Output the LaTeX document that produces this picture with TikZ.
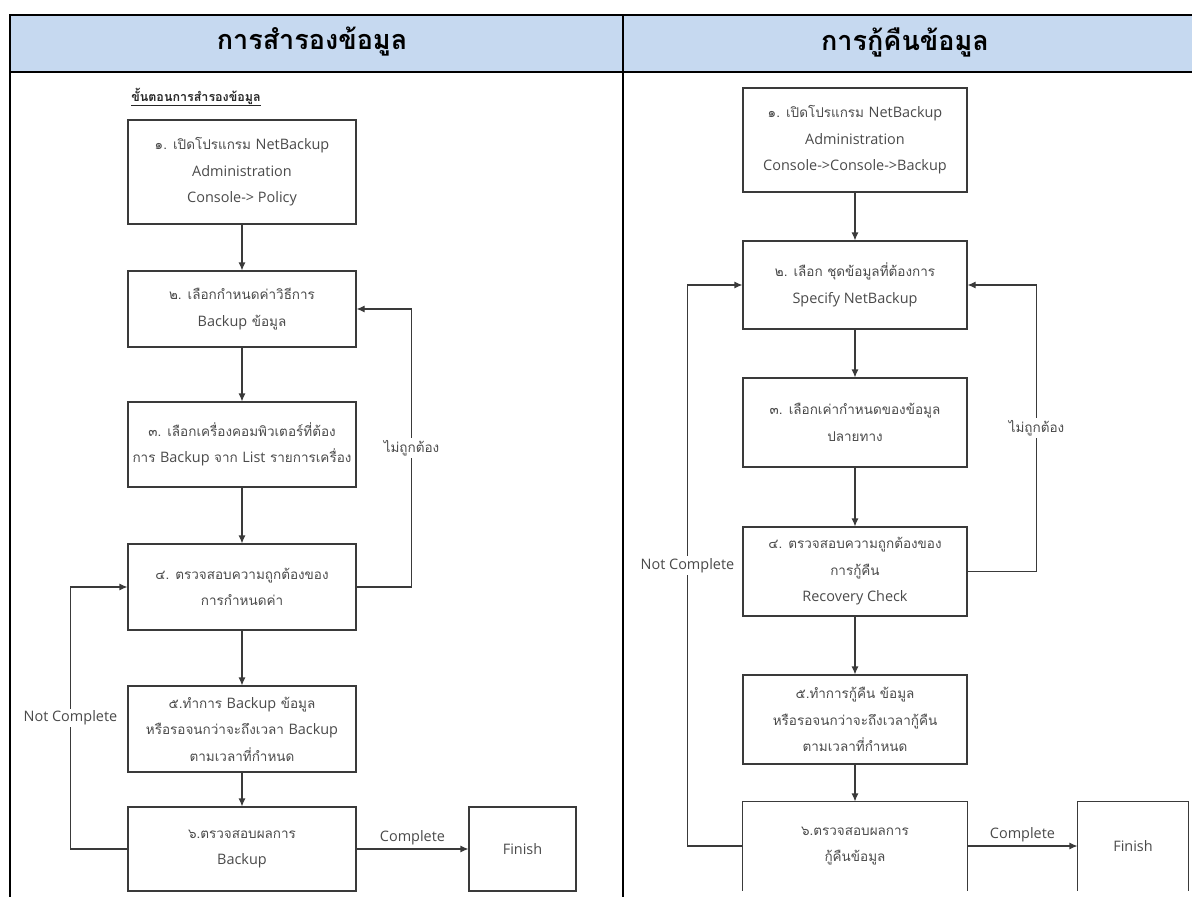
\documentclass[tikz,border=0pt]{standalone}
\usepackage{fontspec}
\setmainfont[Script=Thai]{Loma}
\newfontfamily\la[Scale=1.07]{Open Sans}
\usetikzlibrary{arrows.meta}
\definecolor{hdr}{HTML}{C6D9F0}
\definecolor{linec}{HTML}{3A3A3A}
\definecolor{txt}{HTML}{4A4A4A}
\tikzset{
  box/.style={draw=linec, line width=1.1pt, text=txt, align=center, inner sep=0pt,
    font=\fontsize{13.5}{26.5}\selectfont, minimum width=228, minimum height=86},
  openbox/.style={box, draw=none},
  arr/.style={draw=linec, line width=1.1pt, -{Latex[length=8pt,width=7pt]}},
  lbl/.style={fill=white, text=txt, inner sep=2pt, font=\fontsize{13.5}{15}\selectfont},
  hdrtext/.style={font=\fontsize{27}{30}\selectfont\bfseries, text=black},
  tbl/.style={line width=2.2pt, draw=black}
}
\begin{document}
\begin{tikzpicture}[x=1pt,y=-1pt]
\useasboundingbox (0,0) rectangle (1192,897);
\clip (0,0) rectangle (1192,897);
% table
\fill[hdr] (10,15) rectangle (1200,72);
\draw[tbl] (1200,15) -- (10,15) -- (10,900);
\draw[tbl] (10,72) -- (1200,72);
\draw[tbl] (623,15) -- (623,900);
\node[hdrtext] (hL) at (312,42) {การสำรองข้อมูล};
\node[hdrtext] (hR) at (905,42) {การกู้คืนข้อมูล};
\node[font=\fontsize{12.5}{14}\selectfont\bfseries, text=black!85] (sub) at (196,97) {\underline{ขั้นตอนการสำรองข้อมูล}};
% left column
\node[box, minimum height=104] (L1) at (242,172) {๑. เปิดโปรแกรม {\la NetBackup}\\{\la Administration}\\{\la Console-> Policy}};
\node[box, minimum height=76] (L2) at (242,309) {๒. เลือกกำหนดค่าวิธีการ\\{\la Backup} ข้อมูล};
\node[box, minimum height=85] (L3) at (242,444.5) {๓. เลือกเครื่องคอมพิวเตอร์ที่ต้อง\\การ {\la Backup} จาก {\la List} รายการเครื่อง};
\node[box] (L4) at (242,587) {๔. ตรวจสอบความถูกต้องของ\\การกำหนดค่า};
\node[box] (L5) at (242,729) {๕.ทำการ {\la Backup} ข้อมูล\\หรือรอจนกว่าจะถึงเวลา {\la Backup}\\ตามเวลาที่กำหนด};
\node[box, minimum height=84] (L6) at (242,849) {๖.ตรวจสอบผลการ\\{\la Backup}};
\node[box, minimum height=84, minimum width=107] (LF) at (522.5,849) {\la Finish};
\draw[arr] (L1) -- (L2);
\draw[arr] (L2) -- (L3);
\draw[arr] (L3) -- (L4);
\draw[arr] (L4) -- (L5);
\draw[arr] (L5) -- (L6);
\draw[arr] (L6) -- node[lbl, above=1pt, fill=none] {\la Complete} (LF);
\draw[arr] (L4.east) -- ++(55,0) |- node[lbl, pos=0.25] {ไม่ถูกต้อง} (L2.east);
\draw[arr] (L6.west) -- ++(-57,0) |- node[lbl, pos=0.25] {\la Not Complete} (L4.west);
% right column
\node[box, minimum width=224, minimum height=104] (R1) at (855,140) {๑. เปิดโปรแกรม {\la NetBackup}\\{\la Administration}\\{\la Console->Console->Backup}};
\node[box, minimum width=224, minimum height=88] (R2) at (855,285) {๒. เลือก ชุดข้อมูลที่ต้องการ\\{\la Specify NetBackup}};
\node[box, minimum width=224, minimum height=89] (R3) at (855,422.5) {๓. เลือกเค่ากำหนดของข้อมูล\\ปลายทาง};
\node[box, minimum width=224, minimum height=89] (R4) at (855,571.5) {๔. ตรวจสอบความถูกต้องของ\\การกู้คืน\\{\la Recovery Check}};
\node[box, minimum width=224, minimum height=89] (R5) at (855,719.5) {๕.ทำการกู้คืน ข้อมูล\\หรือรอจนกว่าจะถึงเวลากู้คืน\\ตามเวลาที่กำหนด};
\node[openbox, minimum width=224, minimum height=88] (R6) at (855,846) {๖.ตรวจสอบผลการ\\กู้คืนข้อมูล};
\node[openbox, minimum width=110, minimum height=88] (RF) at (1133,846) {\la Finish};
\draw[draw=linec, line width=1.1pt] (R6.south west) -- (R6.north west) -- (R6.north east) -- (R6.south east);
\draw[draw=linec, line width=1.1pt] (RF.south west) -- (RF.north west) -- (RF.north east) -- (RF.south east);
\draw[arr] (R1) -- (R2);
\draw[arr] (R2) -- (R3);
\draw[arr] (R3) -- (R4);
\draw[arr] (R4) -- (R5);
\draw[arr] (R5) -- (R6);
\draw[arr] (R6) -- node[lbl, above=1pt, fill=none] {\la Complete} (RF);
\draw[arr] (R4.east) -- ++(69,0) |- node[lbl, pos=0.25] {ไม่ถูกต้อง} (R2.east);
\draw[arr] (R6.west) -- ++(-55,0) |- node[lbl, pos=0.25] {\la Not Complete} (R2.west);
\end{tikzpicture}
\end{document}
